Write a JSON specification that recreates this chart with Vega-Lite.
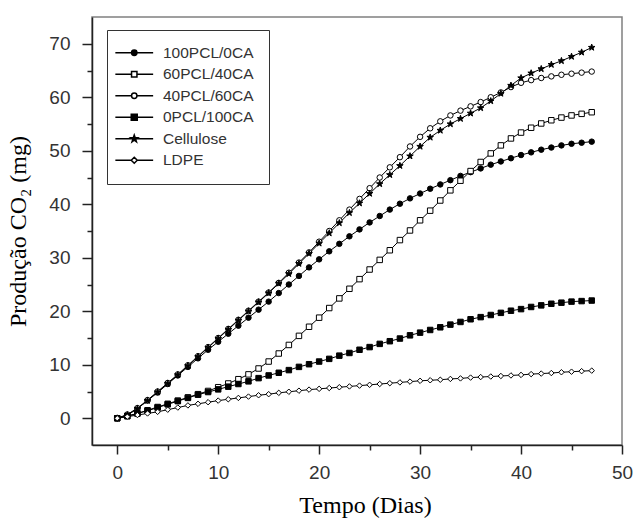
{
  "$schema": "https://vega.github.io/schema/vega-lite/v6.json",
  "width": 530,
  "height": 428,
  "autosize": {"type": "none"},
  "padding": {"left": 92, "top": 17, "right": 14, "bottom": 82},
  "background": "white",
  "config": {
    "font": "Liberation Sans",
    "view": {"stroke": "#808080", "strokeWidth": 1.5}
  },
  "data": {"values": [
    {"s":"100PCL/0CA","d":0,"v":0},{"s":"100PCL/0CA","d":1,"v":0.6},{"s":"100PCL/0CA","d":2,"v":1.8},{"s":"100PCL/0CA","d":3,"v":3.3},{"s":"100PCL/0CA","d":4,"v":4.8},{"s":"100PCL/0CA","d":5,"v":6.4},{"s":"100PCL/0CA","d":6,"v":8.0},{"s":"100PCL/0CA","d":7,"v":9.6},{"s":"100PCL/0CA","d":8,"v":11.2},{"s":"100PCL/0CA","d":9,"v":12.8},{"s":"100PCL/0CA","d":10,"v":14.3},{"s":"100PCL/0CA","d":11,"v":15.8},{"s":"100PCL/0CA","d":12,"v":17.3},{"s":"100PCL/0CA","d":13,"v":18.8},{"s":"100PCL/0CA","d":14,"v":20.3},{"s":"100PCL/0CA","d":15,"v":21.8},{"s":"100PCL/0CA","d":16,"v":23.4},{"s":"100PCL/0CA","d":17,"v":25.0},{"s":"100PCL/0CA","d":18,"v":26.6},{"s":"100PCL/0CA","d":19,"v":28.2},{"s":"100PCL/0CA","d":20,"v":29.7},{"s":"100PCL/0CA","d":21,"v":31.2},{"s":"100PCL/0CA","d":22,"v":32.6},{"s":"100PCL/0CA","d":23,"v":34.0},{"s":"100PCL/0CA","d":24,"v":35.3},{"s":"100PCL/0CA","d":25,"v":36.6},{"s":"100PCL/0CA","d":26,"v":37.8},{"s":"100PCL/0CA","d":27,"v":39.0},{"s":"100PCL/0CA","d":28,"v":40.1},{"s":"100PCL/0CA","d":29,"v":41.1},{"s":"100PCL/0CA","d":30,"v":42.0},{"s":"100PCL/0CA","d":31,"v":42.9},{"s":"100PCL/0CA","d":32,"v":43.7},{"s":"100PCL/0CA","d":33,"v":44.5},{"s":"100PCL/0CA","d":34,"v":45.3},{"s":"100PCL/0CA","d":35,"v":46.0},{"s":"100PCL/0CA","d":36,"v":46.7},{"s":"100PCL/0CA","d":37,"v":47.4},{"s":"100PCL/0CA","d":38,"v":48.0},{"s":"100PCL/0CA","d":39,"v":48.6},{"s":"100PCL/0CA","d":40,"v":49.2},{"s":"100PCL/0CA","d":41,"v":49.7},{"s":"100PCL/0CA","d":42,"v":50.2},{"s":"100PCL/0CA","d":43,"v":50.6},{"s":"100PCL/0CA","d":44,"v":51.0},{"s":"100PCL/0CA","d":45,"v":51.3},{"s":"100PCL/0CA","d":46,"v":51.5},{"s":"100PCL/0CA","d":47,"v":51.7},
    {"s":"60PCL/40CA","d":0,"v":0},{"s":"60PCL/40CA","d":1,"v":0.4},{"s":"60PCL/40CA","d":2,"v":0.9},{"s":"60PCL/40CA","d":3,"v":1.5},{"s":"60PCL/40CA","d":4,"v":2.1},{"s":"60PCL/40CA","d":5,"v":2.7},{"s":"60PCL/40CA","d":6,"v":3.3},{"s":"60PCL/40CA","d":7,"v":3.9},{"s":"60PCL/40CA","d":8,"v":4.5},{"s":"60PCL/40CA","d":9,"v":5.1},{"s":"60PCL/40CA","d":10,"v":5.8},{"s":"60PCL/40CA","d":11,"v":6.5},{"s":"60PCL/40CA","d":12,"v":7.3},{"s":"60PCL/40CA","d":13,"v":8.2},{"s":"60PCL/40CA","d":14,"v":9.3},{"s":"60PCL/40CA","d":15,"v":10.6},{"s":"60PCL/40CA","d":16,"v":12.1},{"s":"60PCL/40CA","d":17,"v":13.7},{"s":"60PCL/40CA","d":18,"v":15.4},{"s":"60PCL/40CA","d":19,"v":17.1},{"s":"60PCL/40CA","d":20,"v":18.8},{"s":"60PCL/40CA","d":21,"v":20.6},{"s":"60PCL/40CA","d":22,"v":22.4},{"s":"60PCL/40CA","d":23,"v":24.2},{"s":"60PCL/40CA","d":24,"v":26.0},{"s":"60PCL/40CA","d":25,"v":27.8},{"s":"60PCL/40CA","d":26,"v":29.6},{"s":"60PCL/40CA","d":27,"v":31.4},{"s":"60PCL/40CA","d":28,"v":33.3},{"s":"60PCL/40CA","d":29,"v":35.1},{"s":"60PCL/40CA","d":30,"v":37.0},{"s":"60PCL/40CA","d":31,"v":38.8},{"s":"60PCL/40CA","d":32,"v":40.7},{"s":"60PCL/40CA","d":33,"v":42.6},{"s":"60PCL/40CA","d":34,"v":44.4},{"s":"60PCL/40CA","d":35,"v":46.2},{"s":"60PCL/40CA","d":36,"v":47.9},{"s":"60PCL/40CA","d":37,"v":49.5},{"s":"60PCL/40CA","d":38,"v":51.0},{"s":"60PCL/40CA","d":39,"v":52.3},{"s":"60PCL/40CA","d":40,"v":53.4},{"s":"60PCL/40CA","d":41,"v":54.3},{"s":"60PCL/40CA","d":42,"v":55.1},{"s":"60PCL/40CA","d":43,"v":55.7},{"s":"60PCL/40CA","d":44,"v":56.2},{"s":"60PCL/40CA","d":45,"v":56.6},{"s":"60PCL/40CA","d":46,"v":56.9},{"s":"60PCL/40CA","d":47,"v":57.2},
    {"s":"40PCL/60CA","d":0,"v":0},{"s":"40PCL/60CA","d":1,"v":0.7},{"s":"40PCL/60CA","d":2,"v":1.9},{"s":"40PCL/60CA","d":3,"v":3.4},{"s":"40PCL/60CA","d":4,"v":5.0},{"s":"40PCL/60CA","d":5,"v":6.6},{"s":"40PCL/60CA","d":6,"v":8.2},{"s":"40PCL/60CA","d":7,"v":9.9},{"s":"40PCL/60CA","d":8,"v":11.6},{"s":"40PCL/60CA","d":9,"v":13.3},{"s":"40PCL/60CA","d":10,"v":15.0},{"s":"40PCL/60CA","d":11,"v":16.7},{"s":"40PCL/60CA","d":12,"v":18.4},{"s":"40PCL/60CA","d":13,"v":20.1},{"s":"40PCL/60CA","d":14,"v":21.8},{"s":"40PCL/60CA","d":15,"v":23.5},{"s":"40PCL/60CA","d":16,"v":25.3},{"s":"40PCL/60CA","d":17,"v":27.2},{"s":"40PCL/60CA","d":18,"v":29.1},{"s":"40PCL/60CA","d":19,"v":31.0},{"s":"40PCL/60CA","d":20,"v":33.0},{"s":"40PCL/60CA","d":21,"v":35.0},{"s":"40PCL/60CA","d":22,"v":37.0},{"s":"40PCL/60CA","d":23,"v":39.0},{"s":"40PCL/60CA","d":24,"v":41.0},{"s":"40PCL/60CA","d":25,"v":43.0},{"s":"40PCL/60CA","d":26,"v":45.0},{"s":"40PCL/60CA","d":27,"v":46.9},{"s":"40PCL/60CA","d":28,"v":48.8},{"s":"40PCL/60CA","d":29,"v":50.8},{"s":"40PCL/60CA","d":30,"v":52.6},{"s":"40PCL/60CA","d":31,"v":54.2},{"s":"40PCL/60CA","d":32,"v":55.5},{"s":"40PCL/60CA","d":33,"v":56.6},{"s":"40PCL/60CA","d":34,"v":57.5},{"s":"40PCL/60CA","d":35,"v":58.3},{"s":"40PCL/60CA","d":36,"v":59.1},{"s":"40PCL/60CA","d":37,"v":60.0},{"s":"40PCL/60CA","d":38,"v":60.9},{"s":"40PCL/60CA","d":39,"v":61.9},{"s":"40PCL/60CA","d":40,"v":62.7},{"s":"40PCL/60CA","d":41,"v":63.2},{"s":"40PCL/60CA","d":42,"v":63.6},{"s":"40PCL/60CA","d":43,"v":63.9},{"s":"40PCL/60CA","d":44,"v":64.2},{"s":"40PCL/60CA","d":45,"v":64.4},{"s":"40PCL/60CA","d":46,"v":64.6},{"s":"40PCL/60CA","d":47,"v":64.8},
    {"s":"0PCL/100CA","d":0,"v":0},{"s":"0PCL/100CA","d":1,"v":0.4},{"s":"0PCL/100CA","d":2,"v":0.9},{"s":"0PCL/100CA","d":3,"v":1.4},{"s":"0PCL/100CA","d":4,"v":2.0},{"s":"0PCL/100CA","d":5,"v":2.6},{"s":"0PCL/100CA","d":6,"v":3.2},{"s":"0PCL/100CA","d":7,"v":3.8},{"s":"0PCL/100CA","d":8,"v":4.4},{"s":"0PCL/100CA","d":9,"v":4.9},{"s":"0PCL/100CA","d":10,"v":5.4},{"s":"0PCL/100CA","d":11,"v":5.9},{"s":"0PCL/100CA","d":12,"v":6.4},{"s":"0PCL/100CA","d":13,"v":6.9},{"s":"0PCL/100CA","d":14,"v":7.5},{"s":"0PCL/100CA","d":15,"v":8.0},{"s":"0PCL/100CA","d":16,"v":8.5},{"s":"0PCL/100CA","d":17,"v":9.0},{"s":"0PCL/100CA","d":18,"v":9.6},{"s":"0PCL/100CA","d":19,"v":10.1},{"s":"0PCL/100CA","d":20,"v":10.6},{"s":"0PCL/100CA","d":21,"v":11.1},{"s":"0PCL/100CA","d":22,"v":11.7},{"s":"0PCL/100CA","d":23,"v":12.2},{"s":"0PCL/100CA","d":24,"v":12.8},{"s":"0PCL/100CA","d":25,"v":13.3},{"s":"0PCL/100CA","d":26,"v":13.9},{"s":"0PCL/100CA","d":27,"v":14.4},{"s":"0PCL/100CA","d":28,"v":14.9},{"s":"0PCL/100CA","d":29,"v":15.5},{"s":"0PCL/100CA","d":30,"v":16.0},{"s":"0PCL/100CA","d":31,"v":16.5},{"s":"0PCL/100CA","d":32,"v":17.0},{"s":"0PCL/100CA","d":33,"v":17.5},{"s":"0PCL/100CA","d":34,"v":18.0},{"s":"0PCL/100CA","d":35,"v":18.5},{"s":"0PCL/100CA","d":36,"v":18.9},{"s":"0PCL/100CA","d":37,"v":19.3},{"s":"0PCL/100CA","d":38,"v":19.7},{"s":"0PCL/100CA","d":39,"v":20.1},{"s":"0PCL/100CA","d":40,"v":20.4},{"s":"0PCL/100CA","d":41,"v":20.8},{"s":"0PCL/100CA","d":42,"v":21.1},{"s":"0PCL/100CA","d":43,"v":21.4},{"s":"0PCL/100CA","d":44,"v":21.6},{"s":"0PCL/100CA","d":45,"v":21.8},{"s":"0PCL/100CA","d":46,"v":21.9},{"s":"0PCL/100CA","d":47,"v":22.0},
    {"s":"Cellulose","d":0,"v":0},{"s":"Cellulose","d":1,"v":0.6},{"s":"Cellulose","d":2,"v":1.8},{"s":"Cellulose","d":3,"v":3.3},{"s":"Cellulose","d":4,"v":4.9},{"s":"Cellulose","d":5,"v":6.5},{"s":"Cellulose","d":6,"v":8.1},{"s":"Cellulose","d":7,"v":9.8},{"s":"Cellulose","d":8,"v":11.5},{"s":"Cellulose","d":9,"v":13.2},{"s":"Cellulose","d":10,"v":14.9},{"s":"Cellulose","d":11,"v":16.6},{"s":"Cellulose","d":12,"v":18.3},{"s":"Cellulose","d":13,"v":20.0},{"s":"Cellulose","d":14,"v":21.7},{"s":"Cellulose","d":15,"v":23.4},{"s":"Cellulose","d":16,"v":25.2},{"s":"Cellulose","d":17,"v":27.0},{"s":"Cellulose","d":18,"v":28.9},{"s":"Cellulose","d":19,"v":30.8},{"s":"Cellulose","d":20,"v":32.7},{"s":"Cellulose","d":21,"v":34.6},{"s":"Cellulose","d":22,"v":36.5},{"s":"Cellulose","d":23,"v":38.4},{"s":"Cellulose","d":24,"v":40.2},{"s":"Cellulose","d":25,"v":42.0},{"s":"Cellulose","d":26,"v":43.8},{"s":"Cellulose","d":27,"v":45.5},{"s":"Cellulose","d":28,"v":47.2},{"s":"Cellulose","d":29,"v":49.0},{"s":"Cellulose","d":30,"v":50.8},{"s":"Cellulose","d":31,"v":52.5},{"s":"Cellulose","d":32,"v":53.8},{"s":"Cellulose","d":33,"v":55.0},{"s":"Cellulose","d":34,"v":56.0},{"s":"Cellulose","d":35,"v":57.0},{"s":"Cellulose","d":36,"v":58.0},{"s":"Cellulose","d":37,"v":59.3},{"s":"Cellulose","d":38,"v":60.7},{"s":"Cellulose","d":39,"v":62.2},{"s":"Cellulose","d":40,"v":63.6},{"s":"Cellulose","d":41,"v":64.5},{"s":"Cellulose","d":42,"v":65.3},{"s":"Cellulose","d":43,"v":66.1},{"s":"Cellulose","d":44,"v":66.8},{"s":"Cellulose","d":45,"v":67.6},{"s":"Cellulose","d":46,"v":68.4},{"s":"Cellulose","d":47,"v":69.3},
    {"s":"LDPE","d":0,"v":0},{"s":"LDPE","d":1,"v":0.3},{"s":"LDPE","d":2,"v":0.6},{"s":"LDPE","d":3,"v":0.9},{"s":"LDPE","d":4,"v":1.2},{"s":"LDPE","d":5,"v":1.6},{"s":"LDPE","d":6,"v":2.0},{"s":"LDPE","d":7,"v":2.4},{"s":"LDPE","d":8,"v":2.7},{"s":"LDPE","d":9,"v":3.0},{"s":"LDPE","d":10,"v":3.3},{"s":"LDPE","d":11,"v":3.55},{"s":"LDPE","d":12,"v":3.8},{"s":"LDPE","d":13,"v":4.05},{"s":"LDPE","d":14,"v":4.3},{"s":"LDPE","d":15,"v":4.5},{"s":"LDPE","d":16,"v":4.75},{"s":"LDPE","d":17,"v":4.95},{"s":"LDPE","d":18,"v":5.15},{"s":"LDPE","d":19,"v":5.35},{"s":"LDPE","d":20,"v":5.5},{"s":"LDPE","d":21,"v":5.65},{"s":"LDPE","d":22,"v":5.8},{"s":"LDPE","d":23,"v":5.95},{"s":"LDPE","d":24,"v":6.1},{"s":"LDPE","d":25,"v":6.25},{"s":"LDPE","d":26,"v":6.4},{"s":"LDPE","d":27,"v":6.55},{"s":"LDPE","d":28,"v":6.7},{"s":"LDPE","d":29,"v":6.85},{"s":"LDPE","d":30,"v":7.0},{"s":"LDPE","d":31,"v":7.1},{"s":"LDPE","d":32,"v":7.2},{"s":"LDPE","d":33,"v":7.35},{"s":"LDPE","d":34,"v":7.45},{"s":"LDPE","d":35,"v":7.6},{"s":"LDPE","d":36,"v":7.7},{"s":"LDPE","d":37,"v":7.8},{"s":"LDPE","d":38,"v":7.9},{"s":"LDPE","d":39,"v":8.0},{"s":"LDPE","d":40,"v":8.1},{"s":"LDPE","d":41,"v":8.25},{"s":"LDPE","d":42,"v":8.35},{"s":"LDPE","d":43,"v":8.45},{"s":"LDPE","d":44,"v":8.6},{"s":"LDPE","d":45,"v":8.7},{"s":"LDPE","d":46,"v":8.8},{"s":"LDPE","d":47,"v":8.9}
  ]},
  "layer": [
    {
      "mark": {"type": "line", "color": "black", "strokeWidth": 1},
      "encoding": {
        "x": {"field": "d", "type": "quantitative", "scale": {"domain": [-2.5, 50], "nice": false, "zero": false},
          "axis": {"orient": "bottom", "values": [0,10,20,30,40,50], "grid": false, "tickSize": 9, "tickWidth": 1.5, "tickColor": "#222", "domainColor": "#222", "domainWidth": 1.5, "labelFont": "Liberation Sans", "labelFontSize": 19, "labelColor": "#333", "labelPadding": 9, "labelFlush": false, "labelOverlap": false, "title": "Tempo (Dias)", "titleFont": "Liberation Serif", "titleFontSize": 24, "titleFontWeight": "normal", "titleColor": "black", "titlePadding": 11, "titleX": 273}},
        "y": {"field": "v", "type": "quantitative", "scale": {"domain": [-5, 75], "nice": false, "zero": false},
          "axis": {"orient": "left", "values": [0,10,20,30,40,50,60,70], "grid": false, "tickSize": 10, "tickWidth": 1.5, "tickColor": "#222", "domainColor": "#222", "domainWidth": 1.5, "labelFont": "Liberation Sans", "labelFontSize": 19, "labelColor": "#333", "labelPadding": 12, "labelFlush": false, "labelOverlap": false, "title": "Produção CO₂ (mg)", "titleFont": "Liberation Serif", "titleFontSize": 24, "titleFontWeight": "normal", "titleColor": "black", "titlePadding": 18}},
        "detail": {"field": "s"}
      }
    },
    {
      "mark": {"type": "point", "filled": true, "stroke": "black", "strokeWidth": 1, "size": 30, "opacity": 1},
      "encoding": {
        "x": {"field": "d", "type": "quantitative",
          "axis": {"orient": "bottom", "values": [5,15,25,35,45], "grid": false, "domain": false, "labels": false, "tickSize": 5, "tickWidth": 1.5, "tickColor": "#222", "title": null}},
        "y": {"field": "v", "type": "quantitative",
          "axis": {"orient": "left", "values": [5,15,25,35,45,55,65], "grid": false, "domain": false, "labels": false, "tickSize": 5, "tickWidth": 1.5, "tickColor": "#222", "title": null}},
        "fill": {"field": "s", "type": "nominal", "scale": {"domain": ["100PCL/0CA","60PCL/40CA","40PCL/60CA","0PCL/100CA","Cellulose","LDPE"], "range": ["black","white","white","black","black","white"]}, "legend": null},
        "shape": {"field": "s", "type": "nominal",
          "scale": {"domain": ["100PCL/0CA","60PCL/40CA","40PCL/60CA","0PCL/100CA","Cellulose","LDPE"], "range": ["circle","square","circle","square","M0,-1.25L0.294,-0.405L1.189,-0.386L0.475,0.155L0.735,1.011L0,0.5L-0.735,1.011L-0.475,0.155L-1.189,-0.386L-0.294,-0.405Z","diamond"]},
          "legend": null}
      }
    },
    {
      "transform": [{"filter": "datum.d < 0"}],
      "mark": {"type": "point", "filled": false, "color": "black", "stroke": "black", "strokeWidth": 1, "size": 36, "opacity": 1},
      "encoding": {
        "x": {"field": "d", "type": "quantitative", "axis": null},
        "y": {"field": "v", "type": "quantitative", "axis": null},
        "shape": {"field": "s", "type": "nominal",
          "scale": {"domain": ["100PCL/0CA","60PCL/40CA","40PCL/60CA","0PCL/100CA","Cellulose","LDPE"],
            "range": [
              "M-6.3,0H6.3M0.9,0A0.9,0.9,0,1,1,-0.9,0A0.9,0.9,0,1,1,0.9,0ZM0.55,0A0.55,0.55,0,1,1,-0.55,0A0.55,0.55,0,1,1,0.55,0ZM0.2,0A0.2,0.2,0,1,1,-0.2,0A0.2,0.2,0,1,1,0.2,0Z",
              "M-6.3,0H-0.9M0.9,0H6.3M-0.9,-0.9H0.9V0.9H-0.9Z",
              "M-6.3,0H-0.9M0.9,0H6.3M0.9,0A0.9,0.9,0,1,1,-0.9,0A0.9,0.9,0,1,1,0.9,0Z",
              "M-6.3,0H6.3M-1,-1H1V1H-1ZM-0.66,-0.66H0.66V0.66H-0.66ZM-0.33,-0.33H0.33V0.33H-0.33Z",
              "M-6.3,0H6.3M0,-1.25L0.294,-0.405L1.189,-0.386L0.475,0.155L0.735,1.011L0,0.5L-0.735,1.011L-0.475,0.155L-1.189,-0.386L-0.294,-0.405ZM0,-0.6L0.14,-0.19L0.57,-0.18L0.23,0.07L0.35,0.48L0,0.24L-0.35,0.48L-0.23,0.07L-0.57,-0.18L-0.14,-0.19Z",
              "M-6.3,0H-1M1,0H6.3M0,-1L1,0L0,1L-1,0Z"
            ]},
          "legend": {
            "title": null, "orient": "none", "legendX": 15, "legendY": 13,
            "padding": 15, "rowPadding": 4.5, "symbolSize": 36, "symbolOffset": 4.5, "labelOffset": 21,
            "labelFont": "Liberation Sans", "labelFontSize": 15.5, "labelColor": "#333",
            "strokeColor": "#333", "fillColor": "white",
            "encode": {"symbols": {
              "stroke": {"value": "black"},
              "strokeWidth": {"value": 1},
              "opacity": {"value": 1}
            }}
          }
        }
      }
    }
  ],
  "resolve": {"axis": {"x": "independent", "y": "independent"}, "scale": {"shape": "independent"}}
}
